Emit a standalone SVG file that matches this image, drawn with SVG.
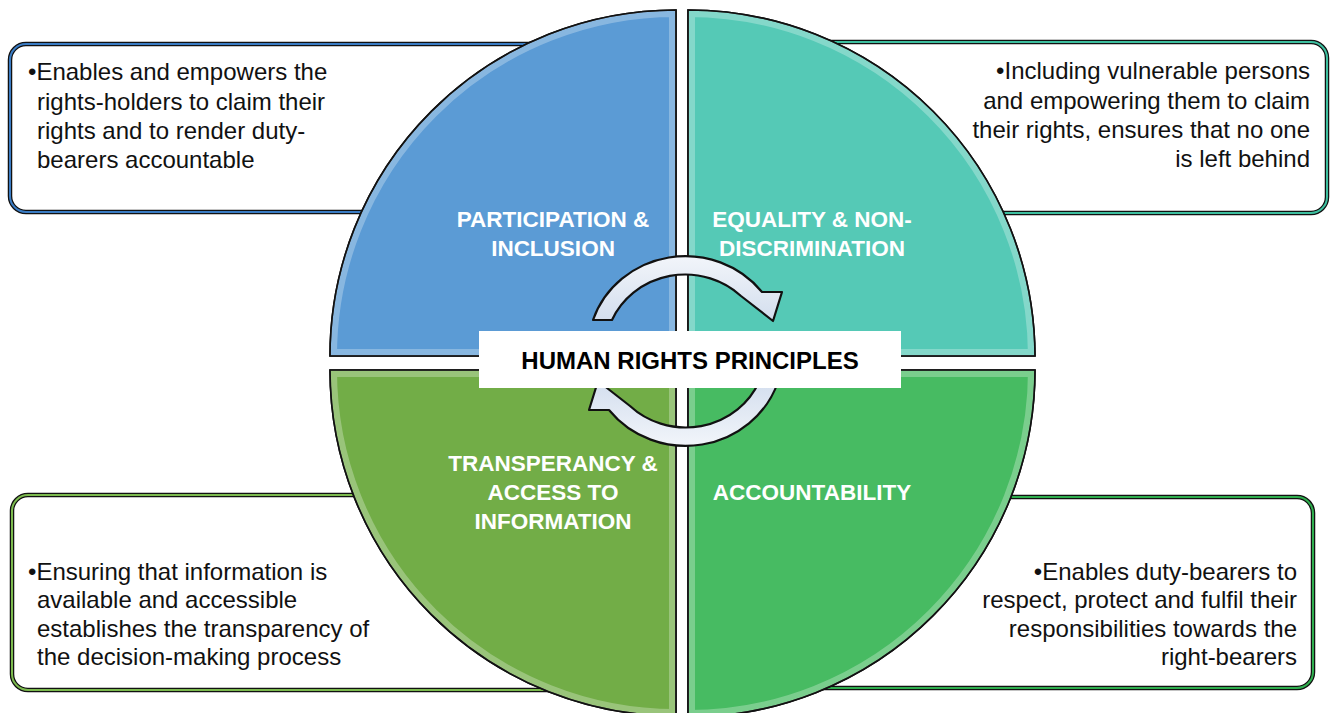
<svg xmlns="http://www.w3.org/2000/svg" width="1332" height="713" viewBox="0 0 1332 713">
<style>
.body{font-family:"Liberation Sans",Arial,sans-serif;font-size:24px;fill:#111}
.ql{font-family:"Liberation Sans",Arial,sans-serif;font-size:22.5px;font-weight:bold;fill:#fff;text-anchor:middle}
.title{font-family:"Liberation Sans",Arial,sans-serif;font-size:24px;font-weight:bold;fill:#000;text-anchor:middle}
.boxo{fill:#fff;stroke:#111;stroke-width:4.5}
.q{stroke:#111;stroke-width:1.6}
.rim{fill:none;stroke:#fff;stroke-width:14;stroke-opacity:0.28}
.arrow{fill:url(#ag);stroke:#111;stroke-width:2.2;stroke-linejoin:round}
</style>
<defs>
<linearGradient id="ag" x1="0" y1="0" x2="0" y2="1">
<stop offset="0" stop-color="#f2f5fa"/>
<stop offset="1" stop-color="#d3deee"/>
</linearGradient>
<clipPath id="cTL"><path d="M676,356 L330,356 A346,346 0 0 1 676,10 Z"/></clipPath>
<clipPath id="cTR"><path d="M688,356 L688,10 A347,347 0 0 1 1035,356 Z"/></clipPath>
<clipPath id="cBL"><path d="M676,370 L676,716 A346,346 0 0 1 330,370 Z"/></clipPath>
<clipPath id="cBR"><path d="M688,370 L1035,370 A347,347 0 0 1 688,717 Z"/></clipPath>
</defs>
<rect width="1332" height="713" fill="#fff"/>

<g id="box-tl">
<rect class="boxo" x="10" y="44" width="560" height="168" rx="16"/>
<rect x="10" y="44" width="560" height="168" rx="16" fill="none" stroke="#3a7cc4" stroke-width="2"/>
<text class="body" x="28" y="80">•Enables and empowers the</text>
<text class="body" x="37" y="110">rights-holders to claim their</text>
<text class="body" x="37" y="139">rights and to render duty-</text>
<text class="body" x="37" y="168">bearers accountable</text>
</g>
<g id="box-tr">
<rect class="boxo" x="790" y="42" width="537" height="171" rx="16"/>
<rect x="790" y="42" width="537" height="171" rx="16" fill="none" stroke="#3dbf9f" stroke-width="2"/>
<text class="body" x="1310" y="79" text-anchor="end">•Including vulnerable persons</text>
<text class="body" x="1310" y="109" text-anchor="end">and empowering them to claim</text>
<text class="body" x="1310" y="138" text-anchor="end">their rights, ensures that no one</text>
<text class="body" x="1310" y="167" text-anchor="end">is left behind</text>
</g>
<g id="box-bl">
<rect class="boxo" x="12" y="495" width="560" height="195" rx="16"/>
<rect x="12" y="495" width="560" height="195" rx="16" fill="none" stroke="#7cba4e" stroke-width="2"/>
<text class="body" x="28" y="580">•Ensuring that information is</text>
<text class="body" x="37" y="608">available and accessible</text>
<text class="body" x="37" y="637">establishes the transparency of</text>
<text class="body" x="37" y="665">the decision-making process</text>
</g>
<g id="box-br">
<rect class="boxo" x="790" y="497" width="523" height="191" rx="16"/>
<rect x="790" y="497" width="523" height="191" rx="16" fill="none" stroke="#2fae4e" stroke-width="2"/>
<text class="body" x="1297" y="580" text-anchor="end">•Enables duty-bearers to</text>
<text class="body" x="1297" y="608" text-anchor="end">respect, protect and fulfil their</text>
<text class="body" x="1297" y="637" text-anchor="end">responsibilities towards the</text>
<text class="body" x="1297" y="665" text-anchor="end">right-bearers</text>
</g>

<g id="q-participation">
<path class="q" fill="#5b9bd5" d="M676,356 L330,356 A346,346 0 0 1 676,10 Z"/>
<path class="rim" clip-path="url(#cTL)" d="M676,356 L330,356 A346,346 0 0 1 676,10 Z"/>
<path class="q" fill="none" d="M676,356 L330,356 A346,346 0 0 1 676,10 Z"/>
<text class="ql" x="553" y="227">PARTICIPATION &amp;</text>
<text class="ql" x="553" y="256">INCLUSION</text>
</g>
<g id="q-equality">
<path class="q" fill="#55c9b6" d="M688,356 L688,10 A347,347 0 0 1 1035,356 Z"/>
<path class="rim" clip-path="url(#cTR)" d="M688,356 L688,10 A347,347 0 0 1 1035,356 Z"/>
<path class="q" fill="none" d="M688,356 L688,10 A347,347 0 0 1 1035,356 Z"/>
<text class="ql" x="812" y="227">EQUALITY &amp; NON-</text>
<text class="ql" x="812" y="256">DISCRIMINATION</text>
</g>
<g id="q-transparency">
<path class="q" fill="#72ad47" d="M676,370 L676,716 A346,346 0 0 1 330,370 Z"/>
<path class="rim" clip-path="url(#cBL)" d="M676,370 L676,716 A346,346 0 0 1 330,370 Z"/>
<path class="q" fill="none" d="M676,370 L676,716 A346,346 0 0 1 330,370 Z"/>
<text class="ql" x="553" y="471">TRANSPERANCY &amp;</text>
<text class="ql" x="553" y="500">ACCESS TO</text>
<text class="ql" x="553" y="529">INFORMATION</text>
</g>
<g id="q-accountability">
<path class="q" fill="#47bb62" d="M688,370 L1035,370 A347,347 0 0 1 688,717 Z"/>
<path class="rim" clip-path="url(#cBR)" d="M688,370 L1035,370 A347,347 0 0 1 688,717 Z"/>
<path class="q" fill="none" d="M688,370 L1035,370 A347,347 0 0 1 688,717 Z"/>
<text class="ql" x="812" y="500">ACCOUNTABILITY</text>
</g>

<g id="connectors">
<path id="arrow-top" class="arrow" d="M593,320 A97.5,94 0 0 1 762,292 L782,292 L773,321 L741,296 A80,76 0 0 0 612,320 Z"/>
<path id="arrow-bottom" class="arrow" transform="rotate(180 685.5 351)" d="M593,320 A97.5,94 0 0 1 762,292 L782,292 L773,321 L741,296 A80,76 0 0 0 612,320 Z"/>
</g>

<g id="center">
<rect x="479" y="331" width="422" height="57" fill="#fff"/>
<text class="title" x="690" y="369">HUMAN RIGHTS PRINCIPLES</text>
</g>
</svg>
